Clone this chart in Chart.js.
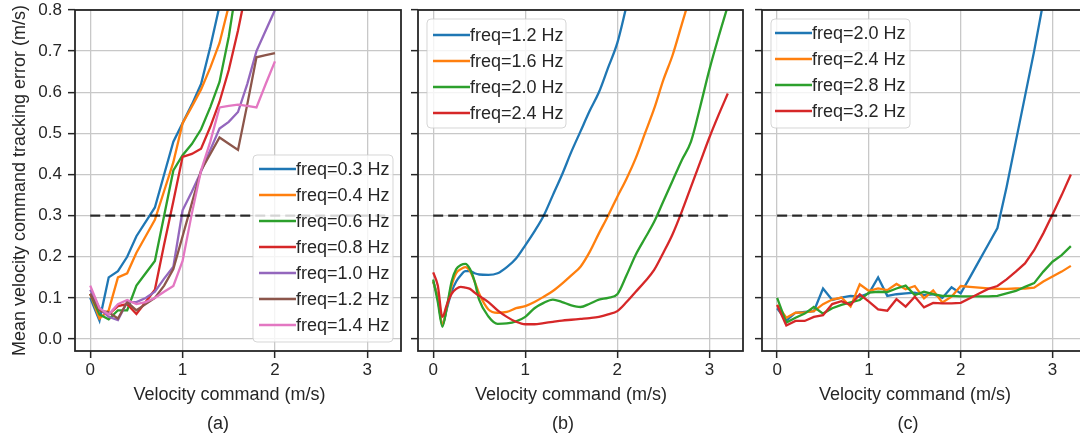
<!DOCTYPE html>
<html>
<head>
<meta charset="utf-8">
<script src="https://cdn.jsdelivr.net/npm/chart.js@4.4.0/dist/chart.umd.min.js"></script>
<style>
html, body { margin: 0; padding: 0; background: #fff; overflow: hidden; width: 1080px; height: 439px; position: relative; }
canvas { position: absolute; top: 0; }
</style>
</head>
<body>
<canvas id="chartA" width="404" height="439" style="left:0px"></canvas>
<canvas id="chartB" width="340" height="439" style="left:405px"></canvas>
<canvas id="chartC" width="340" height="439" style="left:749px"></canvas>
<script>
// shared axis settings
const xTicks = [0, 1, 2, 3];
const yTicks = [0, 0.1, 0.2, 0.3, 0.4, 0.5, 0.6, 0.7, 0.8];
const threshold = 0.3;
const thresholdRange = [0, 3.2];

// (a) low frequencies
const xA = [0, 0.1, 0.2, 0.3, 0.4, 0.5, 0.6, 0.7, 0.8, 0.9, 1.0, 1.1, 1.2, 1.3, 1.4, 1.5, 1.6, 1.7, 1.8, 1.9, 2.0];
const labelsA = ['freq=0.3 Hz', 'freq=0.4 Hz', 'freq=0.6 Hz', 'freq=0.8 Hz', 'freq=1.0 Hz', 'freq=1.2 Hz', 'freq=1.4 Hz'];
const a03 = [0.10, 0.045, 0.15, 0.165, 0.20, 0.25, 0.285, 0.32, 0.40, 0.48, 0.525, 0.57, 0.62, 0.71, 0.81, 0.92];
const a04 = [0.11, 0.05, 0.07, 0.15, 0.16, 0.21, 0.25, 0.29, 0.36, 0.43, 0.525, 0.565, 0.607, 0.66, 0.72, 0.81, 0.92];
const a06 = [0.11, 0.06, 0.048, 0.07, 0.07, 0.13, 0.16, 0.19, 0.30, 0.41, 0.447, 0.474, 0.51, 0.564, 0.625, 0.735, 0.88];
const a08 = [0.11, 0.07, 0.06, 0.08, 0.085, 0.061, 0.09, 0.12, 0.23, 0.335, 0.443, 0.45, 0.463, 0.516, 0.577, 0.654, 0.75, 0.86];
const a10 = [0.12, 0.075, 0.054, 0.046, 0.09, 0.09, 0.10, 0.115, 0.147, 0.176, 0.313, 0.358, 0.407, 0.46, 0.512, 0.528, 0.552, 0.62, 0.70, 0.75, 0.80];
const a12 = [0.11, 0.07, 0.065, 0.05, 0.09, 0.07, 0.085, 0.10, 0.13, 0.17, 0.25, 0.33, 0.41, 0.45, 0.49, 0.475, 0.46, 0.57, 0.685, 0.69, 0.695];
const a14 = [0.13, 0.075, 0.06, 0.085, 0.095, 0.085, 0.09, 0.10, 0.115, 0.129, 0.19, 0.305, 0.41, 0.48, 0.563, 0.567, 0.57, 0.567, 0.563, 0.62, 0.675];

// (b) medium frequencies
const xB = [0, 0.05, 0.1, 0.15, 0.2, 0.25, 0.3, 0.35, 0.4, 0.45, 0.5, 0.6, 0.7, 0.8, 0.9, 1.0, 1.1, 1.2, 1.3, 1.4, 1.5, 1.6,
            1.7, 1.8, 1.9, 2.0, 2.1, 2.2, 2.3, 2.4, 2.5, 2.6, 2.7, 2.8, 2.9, 3.0, 3.1, 3.2];
const labelsB = ['freq=1.2 Hz', 'freq=1.6 Hz', 'freq=2.0 Hz', 'freq=2.4 Hz'];
const b12 = [0.14, 0.10, 0.035, 0.075, 0.115, 0.14, 0.155, 0.165, 0.165, 0.16, 0.157, 0.156, 0.16, 0.175, 0.196, 0.228,
             0.262, 0.30, 0.35, 0.40, 0.455, 0.505, 0.555, 0.60, 0.66, 0.72, 0.81, 0.90];
const b16 = [0.14, 0.10, 0.035, 0.08, 0.13, 0.16, 0.17, 0.175, 0.165, 0.14, 0.11, 0.072, 0.064, 0.066, 0.075, 0.08,
             0.09, 0.103, 0.117, 0.135, 0.155, 0.176, 0.212, 0.257, 0.30, 0.346, 0.39, 0.44, 0.50, 0.56, 0.63, 0.69, 0.765, 0.84];
const b20 = [0.145, 0.09, 0.03, 0.08, 0.14, 0.17, 0.18, 0.183, 0.17, 0.14, 0.095, 0.055, 0.037, 0.038, 0.043, 0.054,
             0.075, 0.088, 0.096, 0.09, 0.082, 0.078, 0.086, 0.096, 0.10, 0.109, 0.155, 0.205, 0.245, 0.285, 0.335, 0.385, 0.435,
             0.48, 0.565, 0.655, 0.735, 0.81];
const b24 = [0.162, 0.13, 0.054, 0.085, 0.11, 0.122, 0.127, 0.125, 0.122, 0.113, 0.105, 0.09, 0.07, 0.054, 0.042, 0.036,
             0.036, 0.039, 0.042, 0.045, 0.047, 0.049, 0.051, 0.054, 0.06, 0.068, 0.09, 0.115, 0.14, 0.168, 0.21, 0.255,
             0.31, 0.37, 0.43, 0.49, 0.545, 0.597];

// (c) high frequencies
const xC = [0, 0.1, 0.2, 0.3, 0.4, 0.5, 0.6, 0.7, 0.8, 0.9, 1.0, 1.1, 1.2, 1.3, 1.4, 1.5, 1.6, 1.7, 1.8, 1.9, 2.0, 2.1,
            2.2, 2.3, 2.4, 2.5, 2.6, 2.7, 2.8, 2.9, 3.0, 3.1, 3.2];
const labelsC = ['freq=2.0 Hz', 'freq=2.4 Hz', 'freq=2.8 Hz', 'freq=3.2 Hz'];
const c20 = [0.075, 0.045, 0.064, 0.066, 0.068, 0.123, 0.095, 0.101, 0.105, 0.103, 0.111, 0.15, 0.105, 0.109, 0.111,
             0.113, 0.107, 0.109, 0.10, 0.126, 0.111, 0.15, 0.19, 0.23, 0.27, 0.37, 0.48, 0.59, 0.70, 0.82];
const c24 = [0.083, 0.052, 0.064, 0.065, 0.068, 0.085, 0.096, 0.101, 0.079, 0.133, 0.117, 0.123, 0.119, 0.134, 0.121,
             0.129, 0.099, 0.118, 0.089, 0.103, 0.129, 0.127, 0.125, 0.123, 0.122, 0.122, 0.123, 0.123, 0.125, 0.14,
             0.152, 0.164, 0.178];
const c28 = [0.10, 0.04, 0.052, 0.062, 0.078, 0.062, 0.075, 0.083, 0.089, 0.095, 0.113, 0.115, 0.114, 0.123, 0.13,
             0.107, 0.115, 0.109, 0.105, 0.105, 0.104, 0.104, 0.104, 0.104, 0.105, 0.111, 0.117, 0.127, 0.136, 0.164,
             0.188, 0.204, 0.226];
const c32 = [0.083, 0.033, 0.044, 0.044, 0.054, 0.058, 0.085, 0.092, 0.083, 0.109, 0.091, 0.072, 0.069, 0.097, 0.079,
             0.103, 0.077, 0.088, 0.087, 0.087, 0.088, 0.099, 0.111, 0.122, 0.129, 0.145, 0.164, 0.184, 0.216, 0.257,
             0.303, 0.35, 0.40];

const COLORS = ['#1f77b4', '#ff7f0e', '#2ca02c', '#d62728', '#9467bd', '#8c564b', '#e377c2'];
const INK = '#262626';
const FAMILY = '"Liberation Sans", Arial, sans-serif';
const LINE_W = 2.3;

function series(xs, ys, label, i, smooth) {
  return {
    label: label,
    data: ys.map((y, k) => ({ x: xs[k], y: y })),
    borderColor: COLORS[i],
    borderWidth: LINE_W,
    pointRadius: 0,
    order: -i,
    cubicInterpolationMode: smooth ? 'monotone' : 'default'
  };
}

function dashed() {
  return {
    data: thresholdRange.map(x => ({ x: x, y: threshold })),
    borderColor: 'rgba(0,0,0,0.8)',
    borderWidth: LINE_W,
    borderDash: [10, 5],
    pointRadius: 0,
    order: -100
  };
}

// frame, legend and texts drawn on top of the lines
const decor = {
  id: 'decor',
  afterDatasetsDraw(chart, args, o) {
    const ctx = chart.ctx, ca = chart.chartArea;
    ctx.save();
    ctx.strokeStyle = INK;
    ctx.lineWidth = 1.8;
    ctx.strokeRect(ca.left, ca.top, ca.right - ca.left, ca.bottom - ca.top);

    const L = o.legend;
    ctx.fillStyle = 'rgba(255,255,255,0.8)';
    ctx.strokeStyle = 'rgba(204,204,204,0.8)';
    ctx.lineWidth = 1;
    ctx.beginPath();
    ctx.roundRect(L.x, L.y, L.w, L.h, 4);
    ctx.fill();
    ctx.stroke();
    ctx.font = '18px ' + FAMILY;
    ctx.textBaseline = 'middle';
    ctx.textAlign = 'left';
    chart.data.datasets.filter(d => d.label).forEach((d, i) => {
      const y = L.y0 + i * L.dy;
      ctx.strokeStyle = d.borderColor;
      ctx.lineWidth = LINE_W;
      ctx.beginPath();
      ctx.moveTo(L.hx, y);
      ctx.lineTo(L.hx + L.hw, y);
      ctx.stroke();
      ctx.fillStyle = INK;
      ctx.fillText(d.label, L.hx + L.hw, y + 1);
    });

    ctx.fillStyle = INK;
    ctx.textBaseline = 'alphabetic';
    ctx.textAlign = 'center';
    ctx.fillText('Velocity command (m/s)', o.titleX, 400);
    ctx.fillText(o.caption, o.captionX, 429);
    if (o.yTitle) {
      ctx.translate(25, (ca.top + ca.bottom) / 2);
      ctx.rotate(-Math.PI / 2);
      ctx.fillText(o.yTitle, 0, 0);
    }
    ctx.restore();
  }
};

function makeChart(id, datasets, cfg) {
  return new Chart(document.getElementById(id), {
    type: 'line',
    data: { datasets: datasets },
    options: {
      responsive: false,
      animation: false,
      devicePixelRatio: 1,
      layout: { padding: { top: 10, right: cfg.padRight, left: 0, bottom: 0 } },
      plugins: { legend: { display: false }, tooltip: { enabled: false }, decor: cfg },
      scales: {
        x: {
          type: 'linear', min: -0.165, max: 3.365,
          afterBuildTicks: s => { s.ticks = xTicks.map(v => ({ value: v })); },
          afterFit: s => { s.height = 88; s.paddingLeft = 0; s.paddingRight = 0; },
          grid: { color: '#c8c8c8', lineWidth: 1.3, tickColor: INK, tickWidth: 1.5, tickLength: 7 },
          border: { display: false },
          ticks: { font: { family: FAMILY, size: 17 }, color: INK, padding: 2, maxRotation: 0 }
        },
        y: {
          type: 'linear', min: -0.029, max: 0.8,
          afterBuildTicks: s => { s.ticks = yTicks.map(v => ({ value: v })); },
          afterFit: s => { s.width = cfg.yWidth; s.paddingTop = 0; s.paddingBottom = 0; },
          grid: { color: '#c8c8c8', lineWidth: 1.3, tickColor: INK, tickWidth: 1.5, tickLength: 7 },
          border: { display: false },
          ticks: {
            display: cfg.yLabels,
            font: { family: FAMILY, size: 17 }, color: INK, padding: 6,
            callback: v => v.toFixed(1)
          }
        }
      }
    },
    plugins: [decor]
  });
}

const setsA = [a03, a04, a06, a08, a10, a12, a14].map((ys, i) => series(xA, ys, labelsA[i], i, false));
setsA.push(dashed());
makeChart('chartA', setsA, {
  padRight: 3, yWidth: 75, yLabels: true,
  legend: { x: 253, y: 155, w: 140, h: 187, y0: 169, dy: 26, hx: 259, hw: 37 },
  titleX: 229.5, caption: '(a)', captionX: 218,
  yTitle: 'Mean velocity command tracking error (m/s)'
});

const setsB = [b12, b16, b20, b24].map((ys, i) => series(xB, ys, labelsB[i], i, true));
setsB.push(dashed());
makeChart('chartB', setsB, {
  padRight: 2, yWidth: 13, yLabels: false,
  legend: { x: 22, y: 19, w: 139, h: 109, y0: 35, dy: 26, hx: 28, hw: 37 },
  titleX: 166, caption: '(b)', captionX: 158
});

const setsC = [c20, c24, c28, c32].map((ys, i) => series(xC, ys, labelsC[i], i, false));
setsC.push(dashed());
makeChart('chartC', setsC, {
  padRight: 3, yWidth: 13, yLabels: false,
  legend: { x: 22, y: 19, w: 139, h: 109, y0: 33, dy: 26, hx: 26, hw: 37 },
  titleX: 166, caption: '(c)', captionX: 159
});
</script>
</body>
</html>
